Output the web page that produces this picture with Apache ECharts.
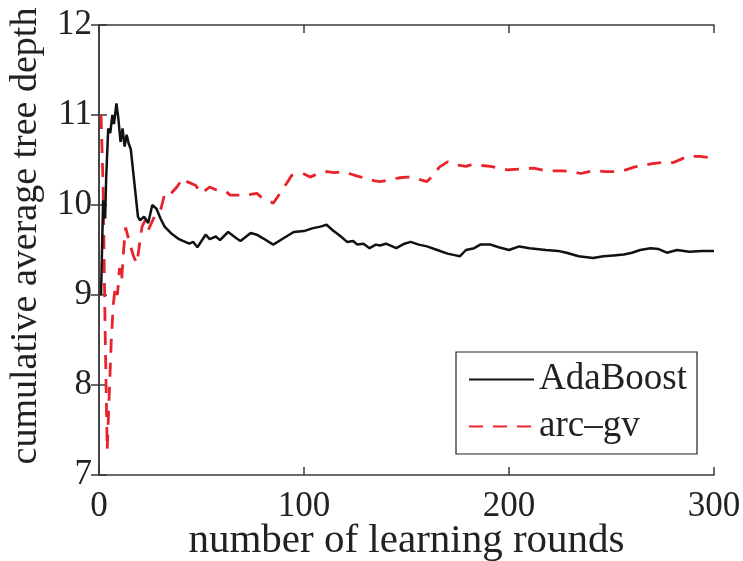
<!DOCTYPE html>
<html>
<head>
<meta charset="utf-8">
<script src="https://cdn.jsdelivr.net/npm/echarts@6/dist/echarts.min.js"></script>
<style>html,body{margin:0;padding:0;background:#fff}#c{width:743px;height:561px}</style>
</head>
<body>
<div id="c"></div>
<script>
const xTicks = [0, 100, 200, 300];
const yTicks = [7, 8, 9, 10, 11, 12];

const adaRounds = [1,2,3,3.5,4.5,5.5,6.5,7.3,8.5,9.5,10.5,11.5,12.5,13.5,14.5,15.5,17,19,20,22,24,26,28,30,32,35,39,44,46,48,52,54,57,59,63,67,69,74,77,80,85,90,95,100,104,108,111,114,118,121,124,126,129,132,135,137,140,145,149,152,156,160,165,170,174,176,179,183,186,191,195,200,205,210,218,224,228,234,241,246,251,256,260,264,269,273,277,282,288,294,300];
const adaDepth = [9.0,10.05,9.85,10.3,10.85,10.8,11.0,10.9,11.13,10.95,10.7,10.85,10.65,10.78,10.68,10.62,10.3,9.87,9.83,9.87,9.8,10.0,9.96,9.85,9.76,9.69,9.62,9.57,9.59,9.53,9.67,9.62,9.65,9.61,9.70,9.63,9.60,9.69,9.67,9.63,9.56,9.63,9.70,9.71,9.74,9.76,9.78,9.72,9.65,9.59,9.6,9.56,9.57,9.52,9.56,9.55,9.57,9.52,9.57,9.59,9.56,9.54,9.5,9.46,9.44,9.43,9.5,9.52,9.56,9.56,9.53,9.5,9.54,9.52,9.5,9.49,9.47,9.43,9.41,9.43,9.44,9.45,9.47,9.5,9.52,9.51,9.47,9.5,9.48,9.49,9.49];

const arcRounds = [1,2,3,4,5,6,7,8,9,10,11,12,13,15,17,18.5,20,21,22.5,24,27,30,32,34,36,38,41,43,47,50,54,57,62,64,69,72,77,79,82,85,88,91.5,94,99.5,103,107,111,115,119,122,126,130,134,137,142,146,150,153,157,160,163,166,170,173,176,179,182,186,191,195,199,205,212,216,221,226,231,235,239,243,247,251,257,261,265,270,274,277,280,284,287,293,297,300];
const arcDepth = [11.0,10.2,8.6,7.28,7.9,8.5,8.9,9.1,9.0,9.3,9.15,9.5,9.75,9.57,9.42,9.35,9.6,9.76,9.83,9.72,9.87,9.94,10.12,10.1,10.15,10.2,10.3,10.26,10.22,10.13,10.2,10.17,10.15,10.11,10.11,10.11,10.13,10.09,10.06,10.02,10.12,10.24,10.33,10.35,10.31,10.35,10.37,10.36,10.37,10.35,10.32,10.3,10.27,10.26,10.28,10.3,10.31,10.31,10.28,10.26,10.33,10.42,10.48,10.45,10.44,10.43,10.45,10.44,10.43,10.41,10.39,10.4,10.41,10.39,10.38,10.38,10.37,10.35,10.37,10.38,10.37,10.37,10.39,10.42,10.44,10.46,10.47,10.48,10.47,10.51,10.54,10.54,10.53,10.52];

const FONT = 'Liberation Serif';
const axisCol = '#3a3a3a';
const chart = echarts.init(document.getElementById('c'), null, {renderer: 'canvas'});

const pair = (xs, ys) => xs.map((x, i) => [x, ys[i]]);

const baseX = {
  type: 'value', min: xTicks[0], max: xTicks[xTicks.length-1], interval: 100,
  axisLine: {show: true, lineStyle: {color: axisCol, width: 1.5}},
  axisTick: {show: true, inside: true, length: 8, lineStyle: {color: axisCol, width: 1.5}},
  splitLine: {show: false}
};
const baseY = {
  type: 'value', min: yTicks[0], max: yTicks[yTicks.length-1], interval: 1,
  axisLine: {show: true, lineStyle: {color: axisCol, width: 1.5}},
  axisTick: {show: true, inside: true, length: 8, lineStyle: {color: axisCol, width: 1.5}},
  splitLine: {show: false}
};

chart.setOption({
  animation: false,
  backgroundColor: '#fff',
  grid: {left: 99, right: 29, top: 25, bottom: 86, containLabel: false, outerBoundsMode: 'none'},
  legend: {
    right: 46, top: 352,
    orient: 'vertical',
    itemWidth: 65, itemHeight: 14, itemGap: 10,
    padding: [9, 10, 9, 12],
    borderColor: '#222', borderWidth: 1.2,
    backgroundColor: '#fff',
    itemStyle: {opacity: 0},
    textStyle: {fontFamily: FONT, fontSize: 37, color: '#222'},
    data: ['AdaBoost', 'arc\u2013gv']
  },
  xAxis: [
    Object.assign({}, baseX, {
      position: 'bottom',
      name: 'number of learning rounds', nameLocation: 'middle', nameGap: 46,
      nameMoveOverlap: false,
      nameTextStyle: {fontFamily: FONT, fontSize: 41, color: '#222'},
      axisLabel: {fontFamily: FONT, fontSize: 35, color: '#222', margin: 14}
    }),
    Object.assign({}, baseX, {position: 'top', axisLabel: {show: false}})
  ],
  yAxis: [
    Object.assign({}, baseY, {
      position: 'left',
      name: 'cumulative average tree depth', nameLocation: 'middle', nameGap: 54,
      nameMoveOverlap: false,
      nameTextStyle: {fontFamily: FONT, fontSize: 38, color: '#222', padding: [0, 0, 0, 28]},
      axisLabel: {fontFamily: FONT, fontSize: 35, color: '#222', margin: 7}
    }),
    Object.assign({}, baseY, {position: 'right', axisLabel: {show: false}})
  ],
  series: [
    {
      name: 'AdaBoost', type: 'line', symbol: 'none',
      data: pair(adaRounds, adaDepth),
      lineStyle: {color: '#111', width: 2.5},
      itemStyle: {color: '#111'}, z: 3
    },
    {
      name: 'arc\u2013gv', type: 'line', symbol: 'none',
      data: pair(arcRounds, arcDepth),
      lineStyle: {color: '#e8232b', width: 2.8, type: [14, 10]},
      itemStyle: {color: '#e8232b'}, z: 2
    }
  ]
});
</script>
</body>
</html>
